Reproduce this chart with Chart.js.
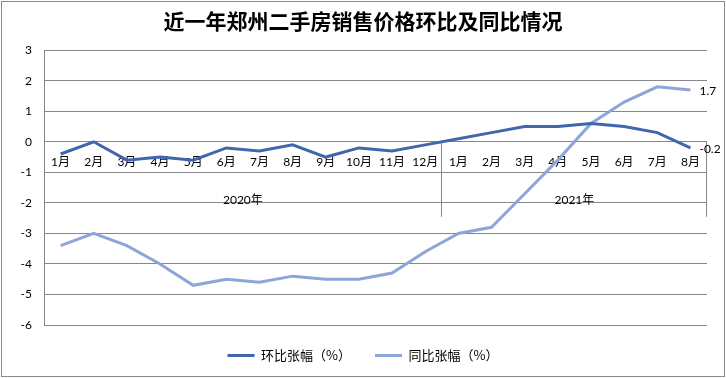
<!DOCTYPE html>
<html><head><meta charset="utf-8">
<script src="https://cdn.jsdelivr.net/npm/chart.js@4.4.1/dist/chart.umd.min.js"></script>
<style>html,body{margin:0;padding:0;background:#fff}#wrap{width:726px;height:378px;position:relative}</style>
</head><body><div id="wrap"><canvas id="c" width="726" height="378"></canvas></div>
<script>
// ---- data ----
const titleText = '近一年郑州二手房销售价格环比及同比情况';
const months = ['1月','2月','3月','4月','5月','6月','7月','8月','9月','10月','11月','12月',
                '1月','2月','3月','4月','5月','6月','7月','8月'];
const years = ['2020年','2021年'];
const yearSpan = [12, 8];
const seriesNames = ['环比张幅（%）','同比张幅（%）'];
const momChange = [-0.4, 0.0, -0.6, -0.5, -0.6, -0.2, -0.3, -0.1, -0.5, -0.2, -0.3, -0.1,
                   0.1, 0.3, 0.5, 0.5, 0.6, 0.5, 0.3, -0.2];
const yoyChange = [-3.4, -3.0, -3.4, -4.0, -4.7, -4.5, -4.6, -4.4, -4.5, -4.5, -4.3, -3.6,
                   -3.0, -2.8, -1.7, -0.6, 0.6, 1.3, 1.8, 1.7];
const yMin = -6, yMax = 3, yStep = 1;

const GRID = '#878787';
const tickFont = {family: "Lato, 'Noto Sans CJK SC', sans-serif", size: 12};

const framePlugin = {
  id: 'frame',
  beforeDraw(chart) {
    const c = chart.ctx;
    c.save();
    c.fillStyle = '#fff';
    c.fillRect(0, 0, chart.width, chart.height);
    c.strokeStyle = '#8a8a8a';
    c.lineWidth = 1;
    c.strokeRect(1.5, 1.5, chart.width - 3, chart.height - 3);
    c.restore();
  }
};

const groupPlugin = {
  id: 'groups',
  beforeDatasetsDraw(chart) {
    const xs = chart.scales.x, ys = chart.scales.y;
    const c = chart.ctx;
    const y0 = ys.getPixelForValue(0);
    const divLen = 75;
    c.save();
    c.strokeStyle = GRID;
    c.lineWidth = 1;
    let start = 0;
    const edges = [xs.left];
    yearSpan.forEach((n) => {
      const end = start + n;
      const xr = end < months.length ? (xs.getPixelForValue(end - 1) + xs.getPixelForValue(end)) / 2 : xs.right;
      edges.push(xr);
      const px = Math.round(xr) - 0.5;
      c.beginPath(); c.moveTo(px, y0); c.lineTo(px, y0 + divLen); c.stroke();
      start = end;
    });
    c.fillStyle = '#000';
    c.font = "12px Lato, 'Noto Sans CJK SC', sans-serif";
    c.textAlign = 'center';
    c.textBaseline = 'middle';
    years.forEach((t, i) => {
      c.fillText(t, (edges[i] + edges[i + 1]) / 2, y0 + 58);
    });
    c.restore();
  }
};

const endLabelPlugin = {
  id: 'endLabels',
  afterDatasetsDraw(chart) {
    const c = chart.ctx;
    c.save();
    c.fillStyle = '#000';
    c.font = "12px Lato, sans-serif";
    c.textAlign = 'left';
    c.textBaseline = 'middle';
    chart.data.datasets.forEach((ds, i) => {
      const meta = chart.getDatasetMeta(i);
      const last = meta.data[meta.data.length - 1];
      c.fillText(String(ds.data[ds.data.length - 1]), last.x + 9, last.y + 1);
    });
    c.restore();
  }
};

new Chart(document.getElementById('c'), {
  type: 'line',
  data: {
    labels: months,
    datasets: [
      {label: seriesNames[0], data: momChange, borderColor: '#4066AE', backgroundColor: '#4066AE',
       borderWidth: 3, pointRadius: 0, tension: 0},
      {label: seriesNames[1], data: yoyChange, borderColor: '#8EA5D9', backgroundColor: '#8EA5D9',
       borderWidth: 3, pointRadius: 0, tension: 0}
    ]
  },
  options: {
    responsive: false,
    animation: false,
    devicePixelRatio: 1,
    layout: {padding: {left: 19, right: 19, top: 0, bottom: 6}},
    plugins: {
      title: {display: true, text: titleText, color: '#000',
        font: {family: "'Noto Sans CJK SC', sans-serif", size: 21, weight: 'bold', lineHeight: 1.2},
        padding: {top: 8, bottom: 17}},
      legend: {position: 'bottom',
        labels: {usePointStyle: true, pointStyle: 'line', pointStyleWidth: 27, color: '#000',
          font: {family: "'Noto Sans CJK SC', sans-serif", size: 13}, padding: 24}},
      tooltip: {enabled: false}
    },
    scales: {
      x: {
        type: 'category',
        offset: true,
        position: {y: 0},
        grid: {display: false, drawTicks: false, offset: true},
        border: {display: false},
        ticks: {padding: 13, autoSkip: false, maxRotation: 0, color: '#000', font: tickFont}
      },
      y: {
        min: yMin, max: yMax,
        ticks: {stepSize: yStep, padding: 12, color: '#000', font: tickFont},
        grid: {color: GRID, drawTicks: false},
        border: {display: true, color: GRID},
        afterFit(s) { s.width = 25; }
      }
    }
  },
  plugins: [framePlugin, groupPlugin, endLabelPlugin]
});
</script>
</body></html>
